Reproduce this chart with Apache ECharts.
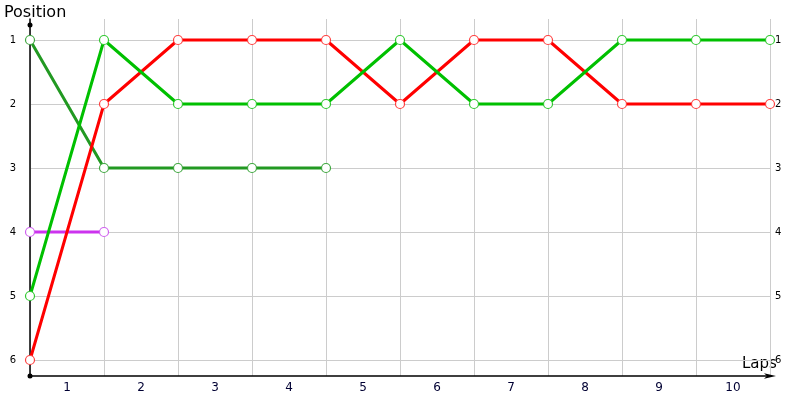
<!DOCTYPE html>
<html>
<head>
<meta charset="utf-8">
<script src="https://cdn.jsdelivr.net/npm/echarts@6/dist/echarts.min.js"></script>
<style>html,body{margin:0;padding:0;background:#fff}#c{width:800px;height:400px}</style>
</head>
<body>
<div id="c"></div>
<script>
var lapLabels = ['1','2','3','4','5','6','7','8','9','10'];
var positionTicks = [1,2,3,4,5,6];
var redPos = [6,2,1,1,1,2,1,1,2,2,2];
var greenPos = [5,1,2,2,2,1,2,2,1,1,1];
var darkGreenPos = [1,3,3,3,3];
var purplePos = [4,4];

function toPts(arr){ return arr.map(function(v,i){ return [i, v]; }); }

var chart = echarts.init(document.getElementById('c'));
var font = 'DejaVu Sans';
function mk(name, arr, color, border){
  return {
    name: name, type: 'line', xAxisIndex: 0, yAxisIndex: 0,
    data: toPts(arr), symbol: 'circle', symbolSize: 9,
    lineStyle: {color: color, width: 3},
    itemStyle: {color: '#ffffff', borderColor: border, borderWidth: 1.2},
    animation: false
  };
}
chart.setOption({
  animation: false,
  textStyle: {fontFamily: font},
  grid: {left: 30, right: 30, top: 19, bottom: 24},
  xAxis: [{
    type: 'value', min: 0, max: 10, interval: 1,
    axisLine: {show: true, lineStyle: {color: '#000', width: 1.5}, symbol: ['circle','arrow'], symbolSize: [4, 12], symbolOffset: [0, 6]},
    axisTick: {show: false}, axisLabel: {show: false},
    splitLine: {show: true, lineStyle: {color: '#cccccc', width: 1}}
  },{
    type: 'category', data: lapLabels, boundaryGap: true, position: 'bottom',
    axisLine: {show: false}, axisTick: {show: false},
    axisLabel: {show: true, color: '#000033', fontSize: 12, fontFamily: font, margin: 6},
    splitLine: {show: false}
  }],
  yAxis: [{
    type: 'value', inverse: true, min: 0.672, max: 6.25,
    axisLine: {show: true, lineStyle: {color: '#000', width: 1.5}, symbol: ['circle','circle'], symbolSize: [5,5], symbolOffset: [0, -6]},
    axisTick: {show: false, customValues: positionTicks},
    axisLabel: {show: true, customValues: positionTicks, color: '#000', fontSize: 10, fontFamily: font, margin: 14},
    splitLine: {show: true, lineStyle: {color: '#cccccc', width: 1}}
  },{
    type: 'value', inverse: true, min: 0.672, max: 6.25, position: 'right',
    axisLine: {show: false}, axisTick: {show: false, customValues: positionTicks},
    axisLabel: {show: true, customValues: positionTicks, color: '#000', fontSize: 10, fontFamily: font, margin: 5},
    splitLine: {show: false}
  }],
  graphic: [
    {type: 'text', left: 4, top: 5, style: {text: 'Position', font: '16px "DejaVu Sans"', fill: '#000'}},
    {type: 'text', left: 742, top: 357, style: {text: 'Laps', font: '15px "DejaVu Sans"', fill: '#000'}}
  ],
  series: [
    mk('Purple', purplePos, '#cc33ee', '#d060f0'),
    mk('DarkGreen', darkGreenPos, '#229922', '#40a840'),
    mk('Red', redPos, '#ff0000', '#ff4040'),
    mk('Green', greenPos, '#00c000', '#30c830')
  ]
});
</script>
</body>
</html>
